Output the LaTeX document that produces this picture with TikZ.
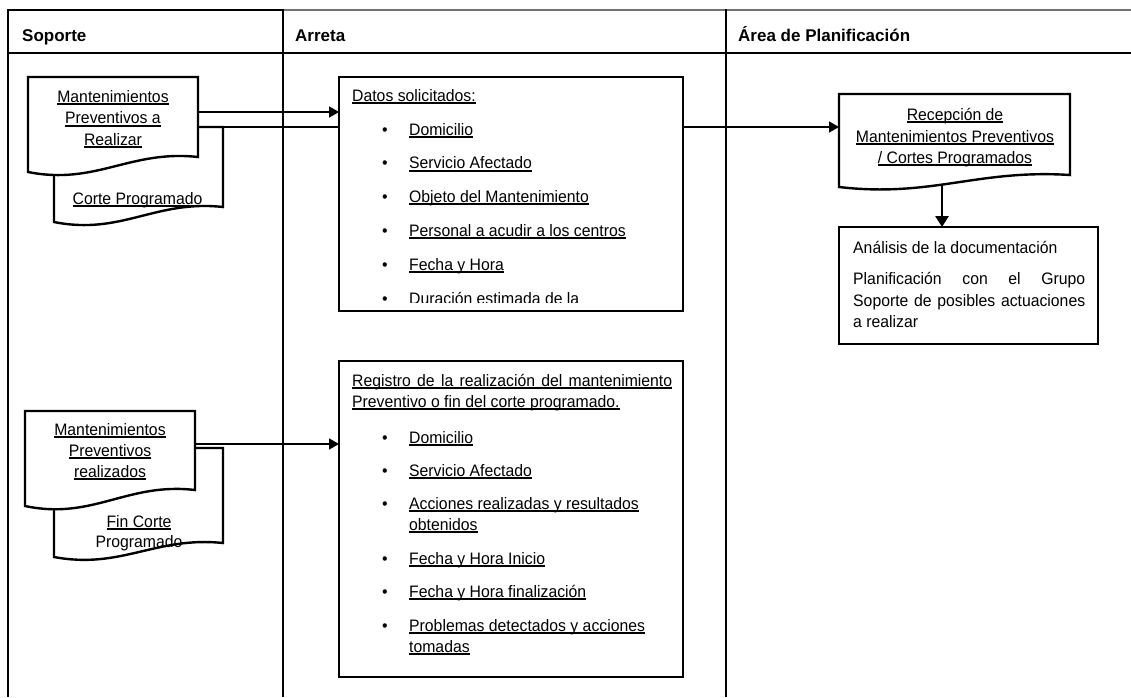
\documentclass[tikz,border=0pt]{standalone}
\usepackage{fontspec}
\setmainfont{Liberation Sans}
\newfontfamily\bodyfont{Liberation Sans}[FakeStretch=0.95]
\usetikzlibrary{arrows.meta,calc}

% underlined text with a heavier rule
\newsavebox\ulinebox
\newcommand\ulined[1]{\sbox\ulinebox{#1}\rlap{\rule[-3.2pt]{\wd\ulinebox}{1.9pt}}\usebox\ulinebox}

% document symbol drawn around an invisible area node: #1 node, #2 depth of the wavy bottom
\newcommand\docoutline[2]{%
  \filldraw[docline] (#1.north west) -- (#1.north east) -- (#1.south east)
    .. controls ($(#1.south west)!0.6!(#1.south east)+(0,-0.5*#2)$)
           and ($(#1.south west)!0.4!(#1.south east)+(0,1.9*#2)$)
    .. node[coordinate,pos=0.56] (#1-low) {} ($(#1.south west)+(0,#2)$) -- cycle;}

\begin{document}
\begin{tikzpicture}[x=1pt,y=-1pt,
  lane/.style={line width=2.6pt},
  docline/.style={draw, fill=white, line width=2.4pt, line join=miter},
  docarea/.style={rectangle, inner sep=0pt, outer sep=0pt, anchor=north west},
  panel/.style={draw, fill=white, line width=2.4pt, rectangle, inner sep=0pt, outer sep=0pt, anchor=north west},
  flow/.style={line width=1.7pt, -{Triangle[length=10pt,width=11pt]}},
  flowdown/.style={line width=2.8pt, -{Triangle[length=11pt,width=13pt]}},
  body/.style={inner sep=0pt, font=\bodyfont\fontsize{16.6}{20}\selectfont},
  lt/.style={body, anchor=base west},
  ct/.style={body, anchor=base},
  head/.style={inner sep=0pt, anchor=base west, font=\bfseries\fontsize{17}{20}\selectfont},
]
\useasboundingbox (0,0) rectangle (1131,697);

% swimlane frame
\draw[lane] (8,10) -- (283,10);
\draw[line width=1.4pt, black!55] (283,10) -- (1131,10);
\draw[lane] (8,53) -- (1131,53);
\draw[lane] (8,9) -- (8,697);
\draw[lane] (283,9) -- (283,697);
\draw[lane] (726,9) -- (726,697);

\node[head] (hsop) at (22,41) {Soporte};
\node[head] (harr) at (295,41) {Arreta};
\node[head] (hpla) at (738,41) {Área de Planificación};

% --- Soporte: preventive maintenance documents (top)
\node[docarea, minimum width=169pt, minimum height=80pt] (d2) at (54,127) {};
\docoutline{d2}{15}
\node[docarea, minimum width=170pt, minimum height=80pt] (d1) at (28,77) {};
\docoutline{d1}{15}
\node[ct] (d1a) at (113,102) {\ulined{Mantenimientos}};
\node[ct] (d1b) at (113,123.5) {\ulined{Preventivos a}};
\node[ct] (d1c) at (113,145) {\ulined{Realizar}};
\node[ct] (d2a) at (137.5,204) {\ulined{Corte Programado}};

\coordinate (c1) at ([yshift=-35pt]d1.north east);
\draw[flow] (d2.north east) -- (d2.north east -| 839,0);

% --- Arreta: requested data
\node[panel, minimum width=344pt, minimum height=234pt] (datos) at (339,77) {};
\draw[flow] (c1) -- (c1 -| datos.west);
\begin{scope}
  \clip ([yshift=8.5pt]datos.south west) rectangle (datos.north east);
  \node[lt] (dtit) at (352,101) {\ulined{Datos solicitados:}};
  \node[ct] (db1) at (385,135) {\textbullet};
  \node[lt] (di1) at (409,135) {\ulined{Domicilio}};
  \node[ct] (db2) at (385,168.5) {\textbullet};
  \node[lt] (di2) at (409,168.5) {\ulined{Servicio Afectado}};
  \node[ct] (db3) at (385,202) {\textbullet};
  \node[lt] (di3) at (409,202) {\ulined{Objeto del Mantenimiento}};
  \node[ct] (db4) at (385,236) {\textbullet};
  \node[lt] (di4) at (409,236) {\ulined{Personal a acudir a los centros}};
  \node[ct] (db5) at (385,270) {\textbullet};
  \node[lt] (di5) at (409,270) {\ulined{Fecha y Hora}};
  \node[ct] (db6) at (385,304) {\textbullet};
  \node[lt] (di6) at (409,304) {\ulined{Duración estimada de la}};
\end{scope}

% --- Área de Planificación
\node[docarea, minimum width=231pt, minimum height=81pt] (recep) at (839,94) {};
\docoutline{recep}{12}
\node[ct] (r1) at (955,120) {\ulined{Recepción de}};
\node[ct] (r2) at (955,142) {\ulined{Mantenimientos Preventivos}};
\node[ct] (r3) at (955,163) {\ulined{/ Cortes Programados}};

\node[panel, minimum width=259pt, minimum height=117pt] (anal) at (839,227) {};
\draw[flowdown] (recep-low) -- (recep-low |- anal.north);
\node[lt] (a1) at (853,253) {Análisis de la documentación};
\node[lt] (a2) at (853,284) {\makebox[232pt][s]{Planificación con el Grupo}};
\node[lt] (a3) at (853,306) {\makebox[232pt][s]{Soporte de posibles actuaciones}};
\node[lt] (a4) at (853,327) {a realizar};

% --- Soporte: completed maintenance documents (bottom)
\node[docarea, minimum width=169pt, minimum height=95pt] (d4) at (54,448) {};
\docoutline{d4}{14}
\node[docarea, minimum width=170pt, minimum height=79pt] (d3) at (25,411) {};
\docoutline{d3}{16}
\node[ct] (d3a) at (110,435) {\ulined{Mantenimientos}};
\node[ct] (d3b) at (110,456) {\ulined{Preventivos}};
\node[ct] (d3c) at (110,477) {\ulined{realizados}};
\node[ct] (d4a) at (139,527) {\ulined{Fin Corte}};
\node[ct] (d4b) at (139,547) {Programado};

\coordinate (c3) at ([yshift=-33pt]d3.north east);

% --- Arreta: completion record
\node[panel, minimum width=344pt, minimum height=316pt] (reg) at (339,361) {};
\draw[flow] (c3) -- (c3 -| reg.west);
\node[lt] (rt1) at (352,386) {\ulined{\makebox[320pt][s]{Registro de la realización del mantenimiento}}};
\node[lt] (rt2) at (352,407) {\ulined{Preventivo o fin del corte programado.}};
\node[ct] (rb1) at (385,443) {\textbullet};
\node[lt] (ri1) at (409,443) {\ulined{Domicilio}};
\node[ct] (rb2) at (385,476) {\textbullet};
\node[lt] (ri2) at (409,476) {\ulined{Servicio Afectado}};
\node[ct] (rb3) at (385,509) {\textbullet};
\node[lt] (ri3) at (409,509) {\ulined{Acciones realizadas y resultados}};
\node[lt] (ri3b) at (409,530) {\ulined{obtenidos}};
\node[ct] (rb4) at (385,564) {\textbullet};
\node[lt] (ri4) at (409,564) {\ulined{Fecha y Hora Inicio}};
\node[ct] (rb5) at (385,597) {\textbullet};
\node[lt] (ri5) at (409,597) {\ulined{Fecha y Hora finalización}};
\node[ct] (rb6) at (385,631) {\textbullet};
\node[lt] (ri6) at (409,631) {\ulined{Problemas detectados y acciones}};
\node[lt] (ri6b) at (409,652) {\ulined{tomadas}};
\end{tikzpicture}
\end{document}
